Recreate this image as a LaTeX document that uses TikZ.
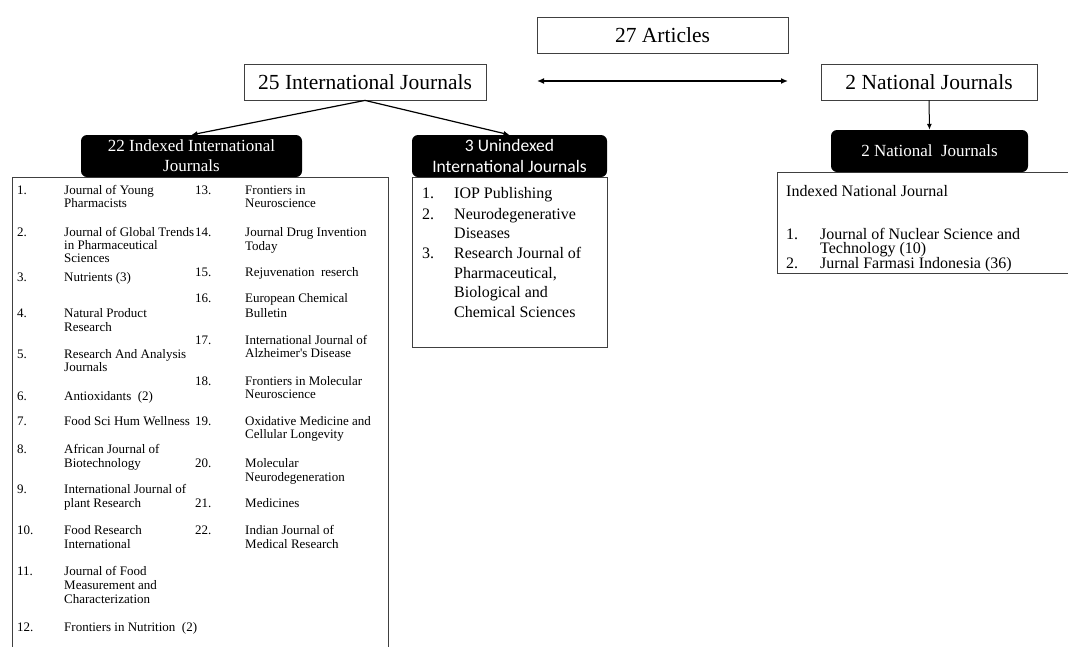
\documentclass[tikz,border=0pt]{standalone}
\usepackage{fontspec}
\setmainfont{Liberation Serif}
\newfontfamily\timesfont{Liberation Serif}
\newfontfamily\calibrifont{Carlito}
\usetikzlibrary{arrows.meta}
\begin{document}
\begin{tikzpicture}[x=1pt,y=-1pt,
  wbox/.style={draw=black!75, line width=0.8pt, fill=white, inner sep=0pt, font=\timesfont\fontsize{21.5}{24}\selectfont},
  bbox/.style={fill=black, rounded corners=6pt, text=white, inner sep=0pt, align=center},
  lbox/.style={draw=black!75, line width=0.8pt, fill=white, inner sep=0pt},
  arr/.style={-{Latex[length=6pt,width=5pt]}, line width=1.2pt},
  darr/.style={{Latex[length=7pt,width=6pt]}-{Latex[length=7pt,width=6pt]}, line width=1.5pt},
  sm/.style={anchor=base west, inner sep=0pt, font=\timesfont\fontsize{13}{13.5}\selectfont},
  md/.style={anchor=base west, inner sep=0pt, font=\timesfont\fontsize{16}{19}\selectfont}]
\useasboundingbox (0,0) rectangle (1068,646);

% top boxes
\node[wbox, minimum width=251pt, minimum height=36pt] (art) at (662.5,35) {27 Articles};
\node[wbox, minimum width=242pt, minimum height=36pt] (intl) at (365,82) {25 International Journals};
\node[wbox, minimum width=216pt, minimum height=36pt] (natl) at (929,82) {2 National Journals};
\coordinate (dl) at (537,81);
\coordinate (dr) at (788,81);
\draw[darr] (dl) -- (dr);

% list boxes
\node[lbox, anchor=north west, minimum width=376pt, minimum height=490pt] (idxl) at (12,177) {};
\node[lbox, anchor=north west, minimum width=195pt, minimum height=170pt] (unxl) at (412,177) {};
\node[lbox, anchor=north west, minimum width=300pt, minimum height=101pt] (nat2l) at (777,172) {};

% black headers
\node[bbox, minimum width=221pt, minimum height=42pt, font=\timesfont\fontsize{17}{20}\selectfont] (idx) at (191.5,156) {22 Indexed International\\Journals};
\node[bbox, minimum width=195pt, minimum height=42pt, font=\calibrifont\fontsize{17.5}{21}\selectfont] (unx) at (509.5,156) {3 Unindexed\\International Journals};
\node[bbox, minimum width=197pt, minimum height=42pt, font=\timesfont\fontsize{17}{20}\selectfont] (nat2) at (929.5,151) {2 National\ \ Journals};

% connectors
\draw[arr] (intl.south) -- (idx.north);
\draw[arr] (intl.south) -- (unx.north);
\draw[arr, line width=1pt] (natl.south) -- (nat2.north);

% indexed list, column 1
\node[sm] (a1n) at (17,194) {1.};
\node[sm] (a1a) at (64,194) {Journal of Young};
\node[sm] (a1b) at (64,207) {Pharmacists};
\node[sm] (a2n) at (17,236) {2.};
\node[sm] (a2a) at (64,236) {Journal of Global Trends};
\node[sm] (a2b) at (64,249) {in Pharmaceutical};
\node[sm] (a2c) at (64,262) {Sciences};
\node[sm] (a3n) at (17,281) {3.};
\node[sm] (a3a) at (64,281) {Nutrients (3)};
\node[sm] (a4n) at (17,317) {4.};
\node[sm] (a4a) at (64,317) {Natural Product};
\node[sm] (a4b) at (64,331) {Research};
\node[sm] (a5n) at (17,358) {5.};
\node[sm] (a5a) at (64,358) {Research And Analysis};
\node[sm] (a5b) at (64,371) {Journals};
\node[sm] (a6n) at (17,400) {6.};
\node[sm] (a6a) at (64,400) {Antioxidants\ \ (2)};
\node[sm] (a7n) at (17,425) {7.};
\node[sm] (a7a) at (64,425) {Food Sci Hum Wellness};
\node[sm] (a8n) at (17,453) {8.};
\node[sm] (a8a) at (64,453) {African Journal of};
\node[sm] (a8b) at (64,467) {Biotechnology};
\node[sm] (a9n) at (17,493) {9.};
\node[sm] (a9a) at (64,493) {International Journal of};
\node[sm] (a9b) at (64,507) {plant Research};
\node[sm] (a10n) at (17,534) {10.};
\node[sm] (a10a) at (64,534) {Food Research};
\node[sm] (a10b) at (64,548) {International};
\node[sm] (a11n) at (17,575) {11.};
\node[sm] (a11a) at (64,575) {Journal of Food};
\node[sm] (a11b) at (64,589) {Measurement and};
\node[sm] (a11c) at (64,603) {Characterization};
\node[sm] (a12n) at (17,631) {12.};
\node[sm] (a12a) at (64,631) {Frontiers in Nutrition\ \ (2)};

% indexed list, column 2
\node[sm] (b13n) at (195,194) {13.};
\node[sm] (b13a) at (245,194) {Frontiers in};
\node[sm] (b13b) at (245,207) {Neuroscience};
\node[sm] (b14n) at (195,236) {14.};
\node[sm] (b14a) at (245,236) {Journal Drug Invention};
\node[sm] (b14b) at (245,250) {Today};
\node[sm] (b15n) at (195,276) {15.};
\node[sm] (b15a) at (245,276) {Rejuvenation\ \ reserch};
\node[sm] (b16n) at (195,302) {16.};
\node[sm] (b16a) at (245,302) {European Chemical};
\node[sm] (b16b) at (245,317) {Bulletin};
\node[sm] (b17n) at (195,344) {17.};
\node[sm] (b17a) at (245,344) {International Journal of};
\node[sm] (b17b) at (245,357) {Alzheimer's Disease};
\node[sm] (b18n) at (195,385) {18.};
\node[sm] (b18a) at (245,385) {Frontiers in Molecular};
\node[sm] (b18b) at (245,398) {Neuroscience};
\node[sm] (b19n) at (195,425) {19.};
\node[sm] (b19a) at (245,425) {Oxidative Medicine and};
\node[sm] (b19b) at (245,438) {Cellular Longevity};
\node[sm] (b20n) at (195,467) {20.};
\node[sm] (b20a) at (245,467) {Molecular};
\node[sm] (b20b) at (245,481) {Neurodegeneration};
\node[sm] (b21n) at (195,507) {21.};
\node[sm] (b21a) at (245,507) {Medicines};
\node[sm] (b22n) at (195,534) {22.};
\node[sm] (b22a) at (245,534) {Indian Journal of};
\node[sm] (b22b) at (245,548) {Medical Research};

% unindexed list
\node[md] (u1n) at (422,198) {1.};
\node[md] (u1a) at (454,198) {IOP Publishing};
\node[md] (u2n) at (422,219) {2.};
\node[md] (u2a) at (454,219) {Neurodegenerative};
\node[md] (u2b) at (454,238) {Diseases};
\node[md] (u3n) at (422,258) {3.};
\node[md] (u3a) at (454,258) {Research Journal of};
\node[md] (u3b) at (454,278) {Pharmaceutical,};
\node[md] (u3c) at (454,297) {Biological and};
\node[md] (u3d) at (454,317) {Chemical Sciences};

% national list
\node[md] (nh) at (786,196) {Indexed National Journal};
\node[md] (n1n) at (786,239) {1.};
\node[md] (n1a) at (820,239) {Journal of Nuclear Science and};
\node[md] (n1b) at (820,253.5) {Technology (10)};
\node[md] (n2n) at (786,268) {2.};
\node[md] (n2a) at (820,268) {Jurnal Farmasi Indonesia (36)};
\end{tikzpicture}
\end{document}
